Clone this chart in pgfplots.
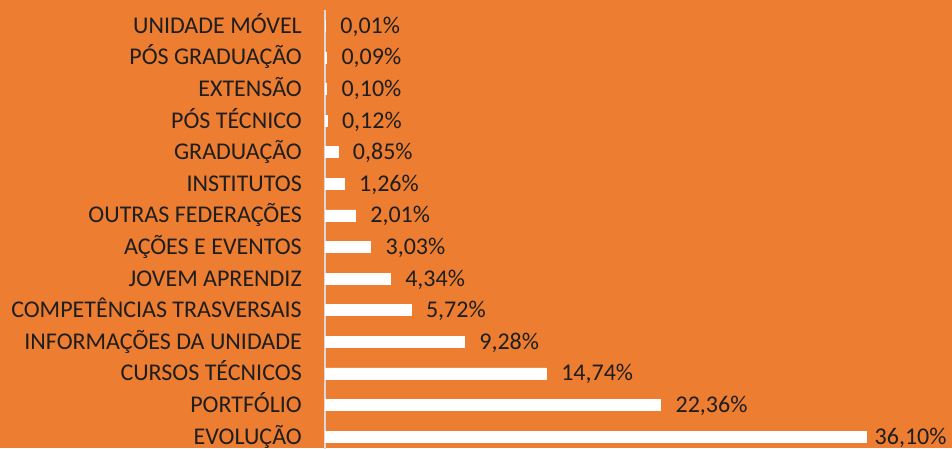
\documentclass[border=0pt]{standalone}
\usepackage{pgfplots}
\pgfplotsset{compat=1.18}
\usepackage{fontspec}
\setmainfont{Carlito}
\definecolor{bg}{HTML}{ED7D31}
\definecolor{txt}{HTML}{1E1E1E}
\definecolor{axl}{HTML}{D9D9D9}
\begin{document}
\begin{tikzpicture}[x=1pt,y=1pt]
\clip (0,-448) rectangle (952,0);
\fill[bg] (0,-448) rectangle (952,0);
\begin{axis}[
  at={(325pt,-452.3pt)}, anchor=south west,
  scale only axis, width=600pt, height=442.4pt,
  xmin=0, xmax=40, ymin=-0.5, ymax=13.5,
  xbar, bar width=11pt, bar shift=0pt,
  axis x line=none, axis y line*=left,
  y axis line style={draw=axl, line width=2pt},
  ytick={0,...,13},
  yticklabels={EVOLUÇÃO, PORTFÓLIO, CURSOS TÉCNICOS, INFORMAÇÕES DA UNIDADE, COMPETÊNCIAS TRASVERSAIS, JOVEM APRENDIZ, AÇÕES E EVENTOS, OUTRAS FEDERAÇÕES, INSTITUTOS, GRADUAÇÃO, PÓS TÉCNICO, EXTENSÃO, PÓS GRADUAÇÃO, UNIDADE MÓVEL},
  major tick length=0pt, ytick style={draw=none},
  yticklabel style={anchor=base east, inner sep=0pt, xshift=-23pt, yshift=-7.5pt, font=\fontsize{24}{28}\selectfont, text=txt},
  clip=false,
  nodes near coords={\pgfmathprintnumber[fixed,fixed zerofill,precision=2,use comma,assume math mode=true]{\pgfplotspointmeta}\%},
  every node near coord/.append style={anchor=base west, inner sep=0pt, xshift=15pt, yshift=-7.5pt, font=\fontsize{24}{28}\selectfont, text=txt},
]
\addplot[fill=white, draw=white] coordinates {
  (22.36,1) (14.74,2) (9.28,3) (5.72,4) (4.34,5) (3.03,6) (2.01,7)
  (1.26,8) (0.85,9) (0.12,10) (0.10,11) (0.09,12) (0.01,13)
};
\addplot[fill=white, draw=white, every node near coord/.append style={xshift=-7pt}] coordinates {
  (36.10,0)
};
\end{axis}
\end{tikzpicture}
\end{document}
